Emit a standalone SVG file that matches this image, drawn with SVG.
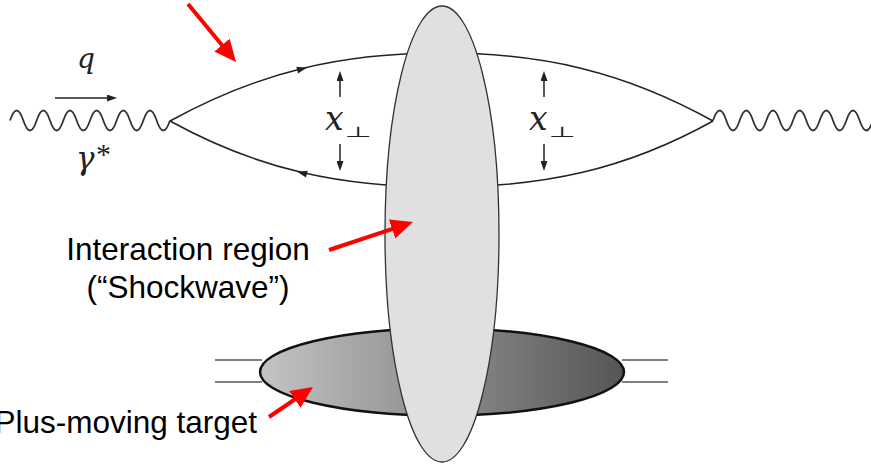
<svg xmlns="http://www.w3.org/2000/svg" xmlns:xlink="http://www.w3.org/1999/xlink" width="871" height="465" viewBox="0 0 871 465">
  <style>
    .quark { fill: none; stroke: #222; stroke-width: 1.5; }
    .wave { fill: none; stroke: #333; stroke-width: 1.8; }
    .tline { fill: none; stroke: #555; stroke-width: 1.6; }
    .blk { fill: none; stroke: #222; stroke-width: 1.5; }
    .red { fill: none; stroke: #ff0000; stroke-width: 4; }
    .math { font-family: "DejaVu Serif", "Liberation Serif", serif; font-style: italic; fill: #222; }
    .perp { font-family: "DejaVu Sans", sans-serif; font-size: 31px; fill: #222; }
    .lbl { font-family: "Liberation Sans", Arial, sans-serif; font-size: 31.5px; fill: #000; }
  </style>
  <defs>
    <linearGradient id="tgrad" gradientUnits="userSpaceOnUse" x1="260" y1="0" x2="624" y2="0">
      <stop offset="0" stop-color="#c4c4c4"/>
      <stop offset="1" stop-color="#555555"/>
    </linearGradient>
    <marker id="redhead" markerUnits="userSpaceOnUse" markerWidth="22" markerHeight="20" viewBox="0 0 22 20" refX="6" refY="10" orient="auto">
      <path d="M0,0 L22,10 L0,20 z" fill="#ff0000"/>
    </marker>
    <marker id="blkhead" markerUnits="userSpaceOnUse" markerWidth="10" markerHeight="7" viewBox="0 0 10 7" refX="2" refY="3.5" orient="auto">
      <path d="M0,0 L10,3.5 L0,7 z" fill="#222"/>
    </marker>
    <path id="qa" d="M-5,-3.5 L5,0 L-5,3.5 z" fill="#222"/>
  </defs>

  <g id="connectors">
    <path id="quark-top" class="quark" d="M170,121 C260,71.5 342,53 442,53 C542,53 624,71.5 713,121"/>
    <path id="quark-bottom" class="quark" d="M170,121 C260,170.5 342,187 442,187 C542,187 624,170.5 713,121"/>
    <use href="#qa" transform="translate(302,69) rotate(-14)"/>
    <use href="#qa" transform="translate(302,173) rotate(194)"/>
    <path id="photon-in" class="wave" d="M10,120.5 q6.667,-20 13.333,0 t13.333,0 t13.333,0 t13.333,0 t13.333,0 t13.333,0 t13.333,0 t13.333,0 t13.333,0 t13.333,0 t13.333,0 t13.333,0"/>
    <path id="photon-out" class="wave" d="M713,120.5 q6.667,-20 13.333,0 t13.333,0 t13.333,0 t13.333,0 t13.333,0 t13.333,0 t13.333,0 t13.333,0 t13.333,0 t13.333,0 t13.333,0 t13.333,0"/>
    <path class="tline" d="M215,360 H262 M215,382 H262 M622,360 H668 M622,382 H668"/>
  </g>

  <g id="target">
    <ellipse cx="442" cy="372" rx="182" ry="43.5" fill="url(#tgrad)" stroke="#111" stroke-width="2.5"/>
  </g>

  <g id="shockwave">
    <ellipse cx="442" cy="234" rx="57" ry="228" fill="#e0e0e0" stroke="#333" stroke-width="1.3"/>
  </g>

  <g id="momentum-label">
    <text class="math" x="77" y="68" font-size="28">q</text>
    <path class="blk" d="M55,98 H109" marker-end="url(#blkhead)"/>
  </g>

  <g id="gamma-label">
    <text class="math" x="76" y="169" font-size="31">γ</text>
    <text x="96" y="164" font-size="30" font-family="Liberation Serif, serif" fill="#222">*</text>
  </g>

  <g id="xperp-left">
    <path class="blk" d="M340,97 V79" marker-end="url(#blkhead)"/>
    <path class="blk" d="M340,144 V163" marker-end="url(#blkhead)"/>
    <text class="math" x="325" y="130" font-size="33">x</text>
    <text class="perp" transform="translate(345,137) scale(1,0.47)">⊥</text>
  </g>

  <g id="xperp-right">
    <path class="blk" d="M544,97 V79" marker-end="url(#blkhead)"/>
    <path class="blk" d="M544,144 V163" marker-end="url(#blkhead)"/>
    <text class="math" x="529" y="130" font-size="33">x</text>
    <text class="perp" transform="translate(549,137) scale(1,0.47)">⊥</text>
  </g>

  <g id="interaction-label">
    <text class="lbl" x="188" y="260" text-anchor="middle">Interaction region</text>
    <text class="lbl" x="188" y="298" text-anchor="middle">(“Shockwave”)</text>
  </g>

  <g id="target-label">
    <text class="lbl" x="257" y="433" text-anchor="end">Plus-moving target</text>
  </g>

  <g id="red-arrows">
    <path class="red" d="M188,4 L225.8,49.7" marker-end="url(#redhead)"/>
    <path class="red" d="M329,250 L397.8,227.1" marker-end="url(#redhead)"/>
    <path class="red" d="M269,417 L299.8,396" marker-end="url(#redhead)"/>
  </g>
</svg>
